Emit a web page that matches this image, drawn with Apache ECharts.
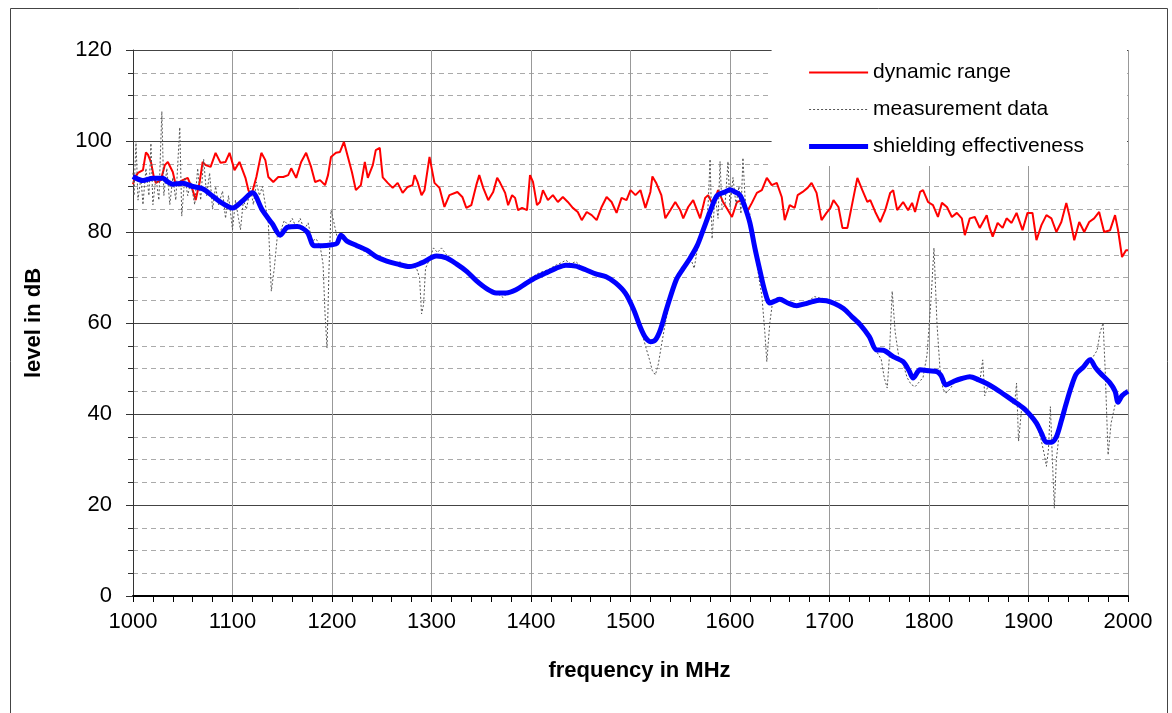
<!DOCTYPE html>
<html>
<head>
<meta charset="utf-8">
<title>shielding effectiveness</title>
<script src="https://cdn.jsdelivr.net/npm/echarts@6/dist/echarts.min.js"></script>
<style>
  html, body { margin: 0; padding: 0; background: #fff; }
  #chart { width: 1172px; height: 713px; }
</style>
</head>
<body>
<div id="chart"></div>
<script>
// dynamic range (red)
var rangeFreq = [1000, 1002, 1005, 1010, 1013, 1015, 1018, 1021, 1023, 1028, 1032, 1035, 1040, 1043, 1047, 1050, 1055, 1060, 1063, 1067,
  1070, 1073, 1078, 1083, 1088, 1093, 1097, 1102, 1107, 1113, 1116, 1119, 1124, 1129, 1133, 1136, 1141, 1146, 1151, 1156,
  1159, 1164, 1169, 1174, 1179, 1183, 1188, 1193, 1196, 1199, 1204, 1208, 1212, 1216, 1220, 1224, 1229, 1233, 1236, 1241,
  1244, 1248, 1251, 1256, 1261, 1266, 1271, 1276, 1281, 1283, 1286, 1290, 1293, 1298, 1303, 1308, 1313, 1318, 1326, 1331,
  1335, 1340, 1345, 1348, 1352, 1357, 1362, 1366, 1369, 1374, 1377, 1381, 1384, 1387, 1391, 1396, 1399, 1402, 1406, 1409,
  1412, 1417, 1422, 1427, 1432, 1437, 1442, 1447, 1451, 1456, 1461, 1466, 1471, 1476, 1481, 1486, 1491, 1496, 1500, 1505,
  1510, 1515, 1520, 1522, 1526, 1531, 1535, 1540, 1545, 1550, 1553, 1558, 1563, 1570, 1575, 1578, 1583, 1588, 1593, 1598,
  1602, 1607, 1612, 1617, 1622, 1627, 1632, 1637, 1642, 1647, 1652, 1655, 1660, 1665, 1668, 1673, 1678, 1682, 1687, 1692,
  1697, 1701, 1704, 1709, 1713, 1718, 1723, 1728, 1733, 1738, 1741, 1746, 1751, 1756, 1761, 1764, 1768, 1774, 1779, 1783,
  1786, 1791, 1794, 1799, 1804, 1809, 1813, 1818, 1823, 1828, 1833, 1836, 1841, 1846, 1851, 1858, 1861, 1864, 1869, 1874,
  1878, 1883, 1888, 1894, 1899, 1904, 1908, 1913, 1918, 1923, 1928, 1933, 1938, 1941, 1946, 1951, 1956, 1961, 1966, 1971,
  1976, 1982, 1987, 1990, 1994, 1998, 2000];
var rangeLevel = [90.5, 92, 93, 93.6, 97.5, 97, 95.4, 92, 90.8, 91.4, 94.7, 95.4, 93.2, 90.3, 91, 91.4, 91.9, 89.2, 87, 91,
  95.4, 94.7, 94.3, 97.4, 95.2, 95.4, 97.4, 93.6, 95.4, 91.9, 89.2, 88.1, 92.1, 97.4, 95.8, 92.1, 91, 92.1, 92.1, 92.5,
  94, 91.9, 95.4, 97.4, 94.3, 91, 91.4, 90.3, 92.5, 96.5, 97.4, 97.6, 99.8, 96.5, 93.2, 89.2, 90.3, 95.4, 91.9, 94.7,
  98, 98.5, 92, 90.8, 89.7, 90.8, 88.6, 89.9, 90.3, 92.5, 91, 88.1, 89.2, 96.5, 90.8, 89.7, 85.5, 88.1, 88.8, 87.7,
  85.3, 85.9, 90.3, 92.5, 89.7, 87, 88.8, 91.9, 90.8, 88.6, 85.9, 88.1, 87.5, 84.8, 85.3, 84.8, 92.5, 91, 85.9, 86.6,
  89.2, 87, 88.1, 86.6, 87.7, 86.6, 85.3, 84.4, 82.6, 84.4, 83.7, 82.6, 85.5, 87.7, 86.6, 84.2, 87.5, 87, 89.2, 88.1,
  89.2, 85.3, 88.8, 92.2, 90.7, 88.1, 83, 84.8, 86.6, 84.8, 83, 85.5, 87, 83, 87.5, 88.1, 85.9, 89.2, 86.6, 84.8,
  83.3, 86.6, 87, 84.4, 86.4, 88.6, 89.2, 91.9, 90.3, 90.8, 87.7, 82.6, 85.9, 85.3, 88.1, 88.8, 89.7, 90.8, 88.6, 82.6,
  84.2, 85.3, 87, 85.5, 80.9, 80.9, 86.4, 91.9, 89.2, 86.6, 87, 84.4, 82.2, 84.8, 88.6, 89.2, 84.8, 86.6, 84.8, 86.4,
  84.4, 88.8, 89.2, 86.6, 85.9, 83.3, 86.4, 85.5, 83.3, 84.2, 83, 79.3, 83, 83.3, 80.9, 83.7, 80.9, 79, 82, 80.9,
  83, 82, 84.2, 80.4, 84.2, 84.2, 78.2, 81.5, 83.7, 83, 80, 82.2, 86.4, 83.7, 78.2, 82.2, 80, 82.2, 83, 84.4,
  80, 80.4, 83.7, 80.4, 74.5, 76, 76];

// measurement data (grey dotted)
var measFreq = [1000, 1001, 1003, 1005, 1008, 1010, 1013, 1016, 1018, 1020, 1023, 1026, 1029, 1031, 1034, 1037, 1040, 1043, 1047, 1049,
  1052, 1055, 1058, 1062, 1065, 1068, 1071, 1074, 1077, 1080, 1083, 1086, 1090, 1093, 1096, 1100, 1103, 1106, 1108, 1111,
  1114, 1118, 1121, 1124, 1127, 1130, 1133, 1136, 1139, 1142, 1145, 1148, 1152, 1156, 1160, 1164, 1168, 1172, 1176, 1180,
  1184, 1188, 1191, 1193, 1195, 1197, 1199, 1202, 1205, 1209, 1213, 1218, 1224, 1230, 1236, 1242, 1248, 1255, 1262, 1268,
  1274, 1280, 1285, 1288, 1290, 1292, 1294, 1298, 1302, 1306, 1310, 1315, 1320, 1326, 1332, 1338, 1344, 1350, 1356, 1362,
  1368, 1372, 1376, 1382, 1388, 1394, 1400, 1406, 1412, 1418, 1424, 1430, 1435, 1440, 1445, 1450, 1455, 1460, 1465, 1470,
  1475, 1480, 1485, 1490, 1495, 1500, 1505, 1510, 1515, 1519, 1522, 1525, 1528, 1531, 1535, 1540, 1545, 1550, 1555, 1560,
  1564, 1567, 1570, 1573, 1576, 1578, 1580, 1582, 1585, 1588, 1590, 1592, 1595, 1598, 1600, 1603, 1606, 1609, 1611, 1613,
  1615, 1617, 1620, 1623, 1626, 1629, 1632, 1635, 1637, 1640, 1643, 1647, 1652, 1658, 1664, 1668, 1674, 1680, 1685, 1690,
  1696, 1702, 1708, 1714, 1720, 1726, 1732, 1738, 1744, 1748, 1752, 1755, 1758, 1760, 1763, 1766, 1770, 1774, 1778, 1782,
  1786, 1790, 1794, 1798, 1802, 1805, 1808, 1811, 1814, 1817, 1821, 1826, 1832, 1838, 1843, 1848, 1851, 1854, 1856, 1859,
  1864, 1870, 1876, 1882, 1886, 1888, 1890, 1893, 1898, 1903, 1908, 1912, 1916, 1918, 1920, 1922, 1924, 1926, 1928, 1931,
  1935, 1940, 1945, 1950, 1955, 1960, 1965, 1969, 1972, 1975, 1977, 1980, 1983, 1987, 1990, 1994, 1998, 2000];
var measLevel = [93, 88, 100, 87, 92, 86, 94, 88, 99.5, 86, 92, 87, 106.5, 88, 94, 86, 92, 87, 103, 83.5,
  92, 88, 91, 86, 94, 87, 96, 88, 93, 85, 90, 86, 89, 83, 88, 80.5, 87, 83, 80.5, 87,
  85, 89.7, 86, 91, 88, 90, 86, 82, 67, 72, 79, 80, 82.5, 81.5, 83, 81, 83, 80.5, 82, 78,
  78.5, 77, 73, 62, 54.5, 72, 84.8, 82, 79, 79.5, 78, 77.5, 77, 76, 75.5, 74.5, 74, 73.5, 73, 73.5,
  72.5, 72.5, 72, 70, 62, 64, 72, 74, 76.5, 75.5, 76.5, 75, 74, 73, 71.5, 70.5, 69, 68, 67, 66.8,
  66.2, 65.6, 66.5, 67, 67.5, 68.5, 69.8, 70.8, 71.3, 71.8, 72.6, 73.2, 73.8, 73, 73.5, 72.5, 72, 71.5, 70.5, 70.2,
  69.8, 69.5, 68.5, 67.5, 66, 64, 62, 59, 55, 52, 49.5, 48.6, 51, 55, 60, 65, 69, 71.5, 73, 74.5,
  72, 76, 79.5, 80, 81, 86, 96, 78.5, 88, 83, 95.5, 85, 86, 95.5, 85.5, 92, 86, 90, 84, 96.3,
  88, 83, 84, 80, 75, 70, 66, 58, 51.5, 60, 65, 65.5, 65.5, 64.5, 63.5, 63.5, 64, 65, 65.8, 65.5,
  65.3, 64.6, 64, 63, 61.8, 60.5, 59.5, 57.5, 55.5, 53.5, 52, 48, 45.7, 52, 67, 58, 52, 51, 48, 46.5,
  46, 47, 48, 53, 65, 76.5, 60, 50, 45.5, 44.6, 45.5, 47, 47.8, 48.3, 48.2, 47.5, 47, 51.9, 44, 46,
  45.5, 44.8, 44, 42.8, 42, 46.8, 34, 41, 40.5, 39.5, 37.5, 35, 31, 28.5, 32, 41.6, 30, 19.3, 30, 36,
  40, 44, 47.5, 49.7, 50.5, 52, 52.6, 54, 58, 60, 50, 31, 38, 42, 43, 44.5, 45, 45.5];

// shielding effectiveness (blue)
var shieldFreq = [1000, 1010, 1020, 1030, 1035, 1040, 1050, 1060, 1070, 1080, 1090, 1100, 1110, 1120, 1130, 1140, 1148, 1155, 1165, 1175,
  1182, 1190, 1200, 1205, 1209, 1215, 1225, 1235, 1245, 1255, 1265, 1278, 1290, 1305, 1315, 1325, 1335, 1345, 1355, 1365,
  1375, 1385, 1395, 1405, 1415, 1425, 1435, 1445, 1455, 1465, 1475, 1485, 1495, 1503, 1510, 1515, 1520, 1525, 1530, 1536,
  1546, 1553, 1560, 1567, 1573, 1580, 1587, 1595, 1600, 1605, 1610, 1615, 1620, 1625, 1630, 1635, 1640, 1645, 1650, 1658,
  1667, 1675, 1683, 1690, 1697, 1705, 1714, 1722, 1731, 1740, 1747, 1754, 1764, 1774, 1780, 1784, 1791, 1800, 1808, 1812,
  1817, 1825, 1833, 1841, 1850, 1858, 1866, 1874, 1884, 1895, 1902, 1908, 1913, 1918, 1923, 1928, 1933, 1938, 1943, 1948,
  1955, 1962, 1967, 1972, 1982, 1987, 1990, 1994, 2000];
var shieldLevel = [92.2, 91.3, 91.8, 91.8, 91, 90.5, 90.7, 90, 89.5, 87.9, 86.3, 85.3, 86.8, 88.6, 84.8, 81.8, 79.3, 81, 81.2, 80,
  77, 77, 77.2, 77.5, 79.3, 78, 77, 76, 74.5, 73.6, 73, 72.4, 73.2, 74.7, 74.3, 73, 71.4, 69.3, 67.6, 66.6,
  66.6, 67.3, 68.7, 70, 71, 72, 72.7, 72.5, 71.7, 70.8, 70.2, 68.8, 66.5, 63, 59, 56.8, 55.9, 56.3, 58.5, 62.9,
  69.5, 72, 74.3, 77, 80.4, 84.5, 88, 88.8, 89.3, 88.8, 88.1, 85.5, 82, 76.5, 71.6, 67, 64.4, 64.8, 65.2, 64.4,
  63.8, 64.2, 64.7, 65, 64.9, 64.3, 63.2, 61.5, 59.6, 57, 54.1, 54, 52.6, 51.5, 49.5, 47.9, 49.7, 49.5, 49.3, 48.5,
  46.4, 47.2, 47.8, 48.2, 47.5, 46.7, 45.7, 44.5, 43, 41.3, 39.7, 38, 35.8, 33.8, 33.8, 35, 38.5, 42.4, 46, 48.8,
  50.3, 51.9, 50.3, 49, 46.8, 45, 42.6, 44, 45];

var seriesNames = ['dynamic range', 'measurement data', 'shielding effectiveness'];

var chart = echarts.init(document.getElementById('chart'));

function pairs(xs, ys) {
  var out = [];
  for (var i = 0; i < xs.length; i++) {
    out.push([xs[i], ys[i]]);
  }
  return out;
}

var font = 'Arial, "Liberation Sans", sans-serif';

var option = {
  backgroundColor: '#fff',
  animation: false,
  grid: {
    left: 133,
    right: 44,
    top: 50,
    bottom: 117
  },
  legend: {
    orient: 'vertical',
    right: 45,
    top: 50,
    padding: [12, 43, 9, 35],
    backgroundColor: '#fff',
    itemWidth: 59,
    itemHeight: 14,
    itemGap: 16,
    // line only, no marker in the middle
    itemStyle: { opacity: 0, borderWidth: 0 },
    data: [
      { name: seriesNames[0], lineStyle: { width: 2 } },
      { name: seriesNames[1], lineStyle: { width: 1 } },
      { name: seriesNames[2], lineStyle: { width: 5 } }
    ],
    textStyle: {
      fontFamily: font,
      fontSize: 21,
      color: '#000',
      lineHeight: 20
    }
  },
  xAxis: {
    type: 'value',
    min: 1000,
    max: 2000,
    interval: 100,
    name: 'frequency in MHz',
    nameLocation: 'middle',
    nameGap: 64,
    nameTextStyle: {
      fontFamily: font,
      fontSize: 22,
      fontWeight: 'bold',
      color: '#000',
      padding: [0, 0, 0, 18]
    },
    axisLine: { show: true, onZero: false, lineStyle: { color: '#000', width: 2 } },
    axisTick: { show: true, inside: false, length: 6, lineStyle: { color: '#000' } },
    minorTick: { show: true, splitNumber: 5, length: 6, lineStyle: { color: '#000' } },
    axisLabel: {
      margin: 15,
      fontFamily: font,
      fontSize: 22,
      color: '#000',
      formatter: function (v) { return String(v); }
    },
    splitLine: { show: true, lineStyle: { color: '#999', width: 1 } }
  },
  yAxis: {
    type: 'value',
    min: 0,
    max: 120,
    interval: 20,
    name: 'level in dB',
    nameLocation: 'middle',
    nameGap: 88,
    nameTextStyle: {
      fontFamily: font,
      fontSize: 22,
      fontWeight: 'bold',
      color: '#000'
    },
    axisLine: { show: true, lineStyle: { color: '#333', width: 1 } },
    axisTick: { show: true, inside: false, length: 7, lineStyle: { color: '#333' } },
    minorTick: { show: true, splitNumber: 4, length: 5, lineStyle: { color: '#333' } },
    axisLabel: {
      margin: 21,
      fontFamily: font,
      fontSize: 22,
      color: '#000'
    },
    splitLine: { show: true, lineStyle: { color: '#444', width: 1 } },
    minorSplitLine: { show: true, lineStyle: { color: '#aaa', type: [5, 4], width: 1 } }
  },
  graphic: [{
    // outer frame
    type: 'rect',
    left: 8,
    top: 6,
    shape: { width: 1157, height: 720 },
    style: { fill: null, stroke: '#444', lineWidth: 1 },
    silent: true
  }],
  series: [{
    name: seriesNames[0],
    type: 'line',
    showSymbol: false,
    symbol: 'none',
    data: pairs(rangeFreq, rangeLevel),
    lineStyle: { color: '#ff0000', width: 2 },
    itemStyle: { color: '#ff0000' },
    z: 2
  }, {
    name: seriesNames[1],
    type: 'line',
    showSymbol: false,
    symbol: 'none',
    data: pairs(measFreq, measLevel),
    lineStyle: { color: '#555', width: 1, type: [2, 2] },
    itemStyle: { color: '#555' },
    z: 3
  }, {
    name: seriesNames[2],
    type: 'line',
    showSymbol: false,
    symbol: 'none',
    smooth: 0.3,
    data: pairs(shieldFreq, shieldLevel),
    lineStyle: { color: '#0000ff', width: 5 },
    itemStyle: { color: '#0000ff' },
    z: 4
  }]
};

chart.setOption(option);
</script>
</body>
</html>
